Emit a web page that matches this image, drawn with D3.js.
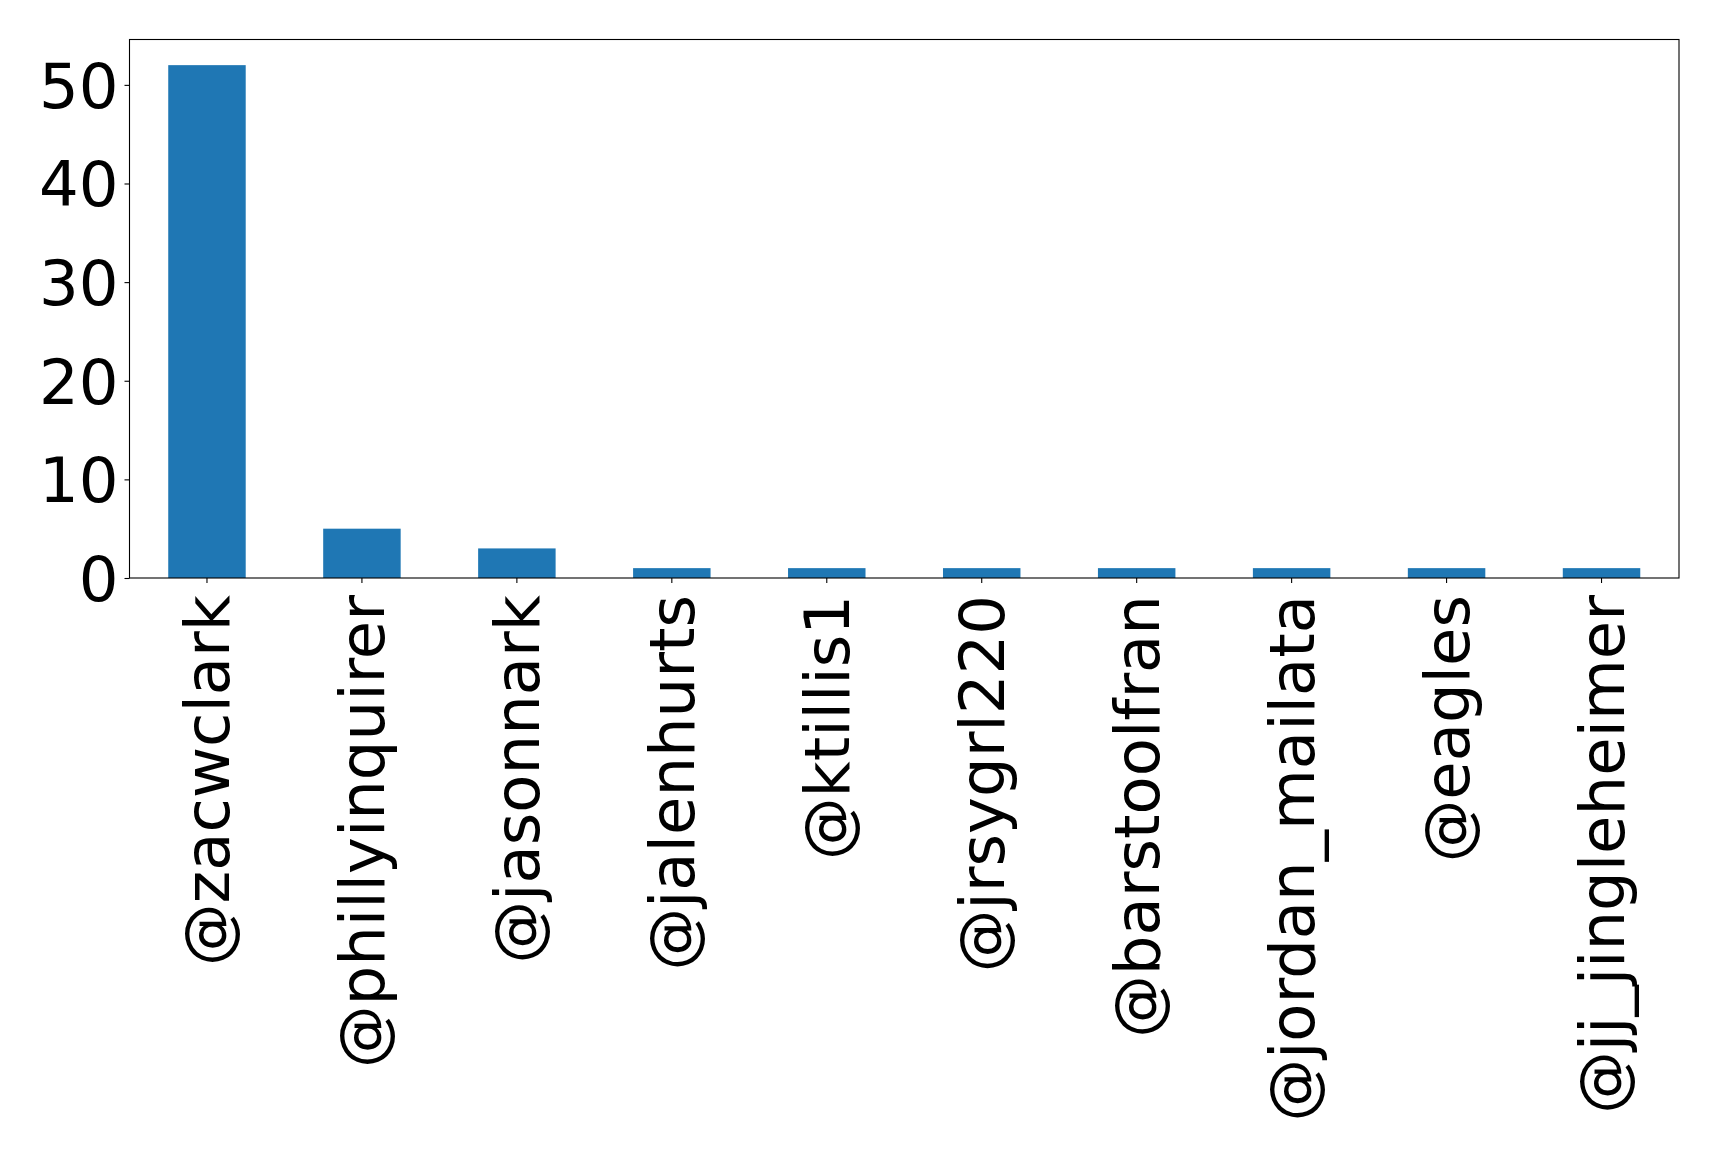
<!DOCTYPE html>
<html>
<head>
<meta charset="utf-8">
<script src="https://cdn.jsdelivr.net/npm/d3@7"></script>
<style>
  body { margin: 0; background: #fff; }
  svg { display: block; }
  text { font-family: 'DejaVu Sans', sans-serif; fill: #000; }
</style>
</head>
<body>
<div class="chart"></div>
<script>
'use strict'
const handles = ['@zacwclark', '@phillyinquirer', '@jasonnark', '@jalenhurts', '@ktillis1',
  '@jrsygrl220', '@barstoolfran', '@jordan_mailata', '@eagles', '@jj_jingleheimer']
const counts = [52, 5, 3, 1, 1, 1, 1, 1, 1, 1]
const yTicks = [0, 10, 20, 30, 40, 50]

const width = 1719
const height = 1154
const margin = { top: 39.5, right: 40, bottom: 576, left: 129.5 }
const fontSize = 62.5

const svg = d3.select('.chart').append('svg')
  .attr('width', width)
  .attr('height', height)

const innerW = width - margin.left - margin.right
const innerH = height - margin.top - margin.bottom

const x = d3.scaleBand()
  .domain(handles)
  .range([margin.left, margin.left + innerW])
  .paddingInner(0.5)
  .paddingOuter(0.25)

const yMax = d3.max(counts) * 1.05
const y = d3.scaleLinear()
  .domain([0, yMax])
  .range([margin.top + innerH, margin.top])

// bars
svg.append('g').selectAll('rect')
  .data(counts)
  .enter().append('rect')
  .attr('x', function (d, i) { return x(handles[i]) })
  .attr('y', function (d) { return y(d) })
  .attr('width', x.bandwidth())
  .attr('height', function (d) { return y(0) - y(d) })
  .attr('fill', '#1f77b4')

// y axis
const yAxis = svg.append('g')
  .attr('transform', 'translate(' + margin.left + ',0)')
  .call(d3.axisLeft(y).tickValues(yTicks).tickSize(5).tickPadding(6).tickFormat(d3.format('d')))
yAxis.select('.domain').remove()
yAxis.selectAll('text')
  .style('font-family', "'DejaVu Sans', sans-serif")
  .style('font-size', fontSize + 'px')
  .attr('dy', '0.36em')
yAxis.selectAll('line').attr('stroke', '#000').attr('stroke-width', 1.1)

// x axis
const xAxis = svg.append('g')
  .attr('transform', 'translate(0,' + (margin.top + innerH) + ')')
  .call(d3.axisBottom(x).tickSize(5).tickPadding(0))
xAxis.select('.domain').remove()
xAxis.selectAll('line').attr('stroke', '#000').attr('stroke-width', 1.1)
xAxis.selectAll('text')
  .style('font-family', "'DejaVu Sans', sans-serif")
  .style('font-size', fontSize + 'px')
  .attr('text-anchor', 'end')
  .attr('transform', 'translate(0,17) rotate(-90)')
  .attr('x', 0)
  .attr('y', 0)
  .attr('dy', '0.36em')

// frame
svg.append('rect')
  .attr('x', margin.left)
  .attr('y', margin.top)
  .attr('width', innerW)
  .attr('height', innerH)
  .attr('fill', 'none')
  .attr('stroke', '#000')
  .attr('stroke-width', 1.1)
</script>
</body>
</html>
